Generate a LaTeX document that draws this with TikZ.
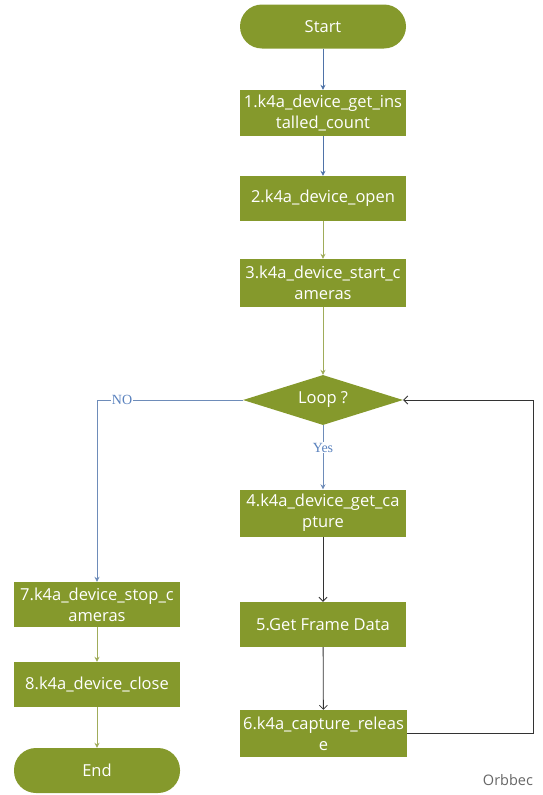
\documentclass[tikz,border=0pt]{standalone}
\usepackage{fontspec}
\setmainfont{Open Sans}
\newfontfamily\serifx{Liberation Serif}
\usetikzlibrary{shapes.geometric,arrows.meta}
\definecolor{olive}{RGB}{133,153,44}
\definecolor{bluel}{RGB}{79,115,168}
\definecolor{bluem}{RGB}{110,140,185}
\definecolor{olivel}{RGB}{160,172,90}
\definecolor{lbl}{RGB}{90,130,190}
\begin{document}
\begin{tikzpicture}[x=1pt,y=-1pt,
  stepbox/.style={rectangle,fill=olive,text=white,minimum width=166pt,minimum height=46pt,inner sep=0pt,align=center,font=\fontsize{16.5}{21}\selectfont},
  term/.style={stepbox,minimum height=44pt,rounded corners=22pt},
  dec/.style={diamond,fill=olive,text=white,aspect=3.2,minimum width=160pt,minimum height=50pt,inner sep=0pt,font=\fontsize{16.5}{21}\selectfont},
  bline/.style={draw=bluel,line width=0.8pt,-{Stealth[length=5pt,width=5pt]}},
  mline/.style={draw=bluem,line width=0.8pt,-{Stealth[length=5pt,width=5pt]}},
  oline/.style={draw=olivel,line width=0.8pt,-{Stealth[length=5pt,width=5pt]}},
  kline/.style={draw=black!80,line width=0.8pt,-{Straight Barb[length=4pt,width=8pt]}},
  lab/.style={fill=white,text=lbl,inner sep=1pt,font=\serifx\fontsize{14}{16}\selectfont}
]
\useasboundingbox (0,0) rectangle (542,795);
\node[term] (start) at (323,26.5) {Start};
\node[stepbox] (b1) at (323,113) {1.k4a\_device\_get\_ins\\talled\_count};
\node[stepbox,minimum height=45pt] (b2) at (323,198.5) {2.k4a\_device\_open};
\node[stepbox,minimum height=48pt] (b3) at (323,283) {3.k4a\_device\_start\_c\\ameras};
\node[dec] (dia) at (323,400) {Loop ?};
\node[stepbox,minimum height=47pt] (b4) at (323,513) {4.k4a\_device\_get\_ca\\pture};
\node[stepbox,minimum height=45pt] (b5) at (323,624.5) {5.Get Frame Data};
\node[stepbox,minimum height=47pt,minimum width=167pt] (b6) at (323.5,733.5) {6.k4a\_capture\_releas\\e};
\node[stepbox,minimum height=45pt] (b7) at (97,604.5) {7.k4a\_device\_stop\_c\\ameras};
\node[stepbox,minimum height=45pt] (b8) at (97,684.5) {8.k4a\_device\_close};
\node[term,minimum height=45pt] (end) at (97,770.5) {End};
\node[text=black!60,font=\fontsize{14.5}{16}\selectfont] (org) at (508,780) {Orbbec};
\coordinate (lc) at (533,733.5);
\draw[bline] (start) -- (b1);
\draw[bline] (b1) -- (b2);
\draw[oline] (b2) -- (b3);
\draw[oline] (b3) -- (dia);
\draw[mline] (dia.west) -| node[lab,pos=0.414] {NO} (b7.north);
\draw[mline] (dia.south) -- node[lab,pos=0.35] {Yes} (b4.north);
\draw[kline] (b4) -- (b5);
\draw[kline] (b5) -- (b6);
\draw[oline] (b7) -- (b8);
\draw[oline] (b8) -- (end);
\draw[kline] (b6.east) -- (lc) |- (dia.east);
\end{tikzpicture}
\end{document}
